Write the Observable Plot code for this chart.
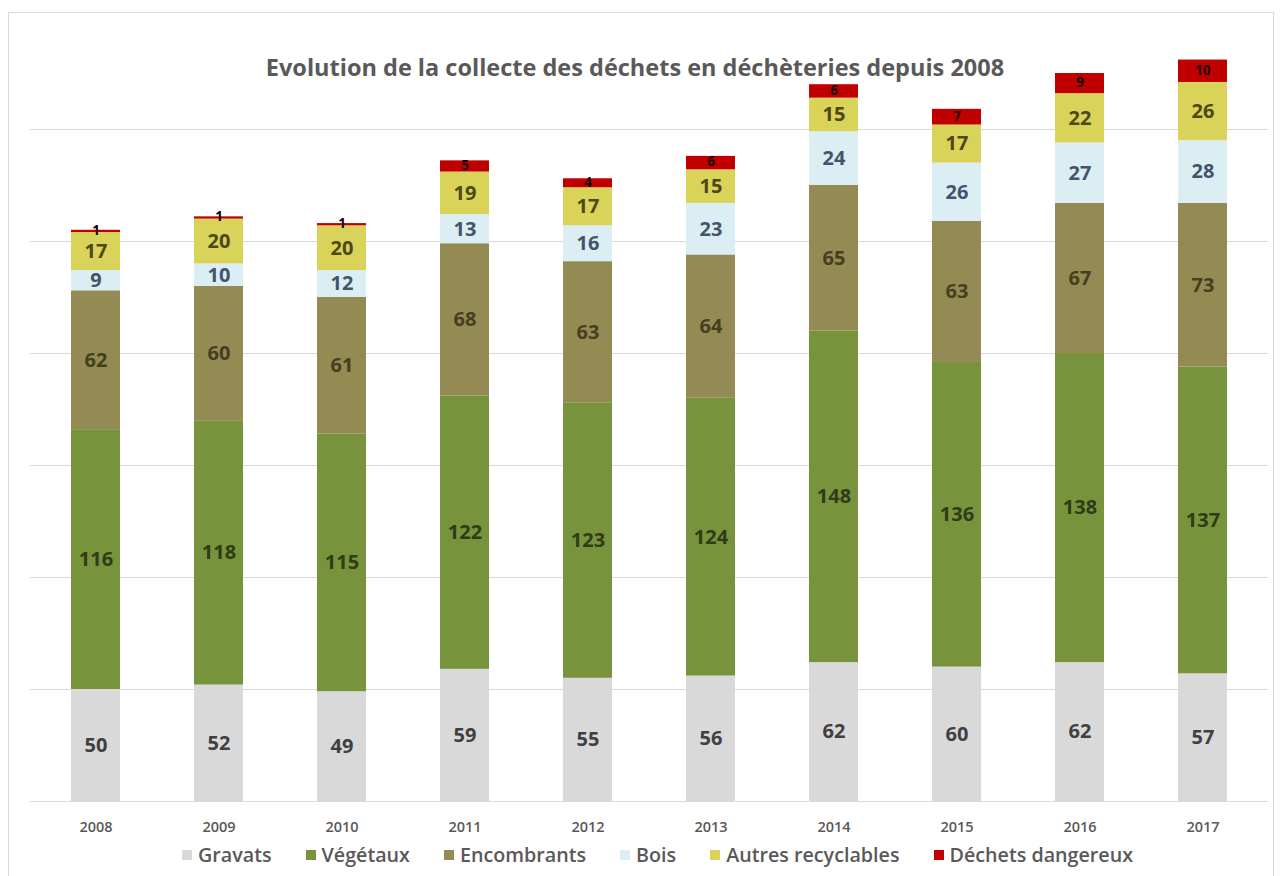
<!DOCTYPE html>
<html>
<head>
<meta charset="utf-8">
<script src="https://cdn.jsdelivr.net/npm/d3@7"></script>
<script src="https://cdn.jsdelivr.net/npm/@observablehq/plot@0.6"></script>
<style>
  html, body { margin: 0; padding: 0; background: #fff; }
  #wrap { position: relative; width: 1282px; height: 876px; overflow: hidden; font-family: "Open Sans", sans-serif; }
  #frame { position: absolute; left: 8px; top: 12px; width: 1266px; height: 880px; border: 1px solid #d9d9d9; box-sizing: border-box; }
  #chart { position: absolute; left: 0; top: 20px; }
  #title { position: absolute; left: 0; top: 56px; width: 1270px; text-align: center; font-size: 23.5px; line-height: 23px; font-weight: 700; color: #595959; z-index: 2; }
  #legend { position: absolute; left: 182px; top: 843px; display: flex; align-items: center; font-size: 19.7px; line-height: 24px; font-weight: 600; color: #595959; z-index: 2; white-space: nowrap; }
  #legend .item { display: flex; align-items: center; margin-right: 34px; }
  #legend .sw { width: 10px; height: 10px; margin-right: 6px; }
</style>
</head>
<body>
<div id="wrap">
  <div id="frame"></div>
  <div id="title">Evolution de la collecte des déchets en déchèteries depuis 2008</div>
  <div id="chart"></div>
  <div id="legend"></div>
</div>
<script>
const years = ["2008","2009","2010","2011","2012","2013","2014","2015","2016","2017"];
const seriesNames = ["Gravats","Végétaux","Encombrants","Bois","Autres recyclables","Déchets dangereux"];
const gravats     = [50, 52, 49, 59, 55, 56, 62, 60, 62, 57];
const vegetaux    = [116,118,115,122,123,124,148,136,138,137];
const encombrants = [62, 60, 61, 68, 63, 64, 65, 63, 67, 73];
const bois        = [9, 10, 12, 13, 16, 23, 24, 26, 27, 28];
const autres      = [17, 20, 20, 19, 17, 15, 15, 17, 22, 26];
const dangereux   = [1, 1, 1, 5, 4, 6, 6, 7, 9, 10];
const gridTicks   = [0, 50, 100, 150, 200, 250, 300];

const barColors  = ["#d9d9d9", "#77933c", "#948a54", "#dbeef4", "#d9d35a", "#c00000"];
const textColors = ["#404040", "#2f3c16", "#463f1f", "#44546a", "#4d4814", "#1a0000"];

const values = [gravats, vegetaux, encombrants, bois, autres, dangereux];
const data = [];
seriesNames.forEach((s, si) => {
  years.forEach((y, yi) => {
    data.push({year: y, series: s, si, value: values[si][yi]});
  });
});

const chart = Plot.plot({
  width: 1282,
  height: 820,
  marginLeft: 30,
  marginRight: 14,
  marginTop: 109,
  marginBottom: 39,
  style: {background: "transparent", fontFamily: "Open Sans, sans-serif"},
  x: {domain: years, paddingInner: 0.6, paddingOuter: 0.3, label: null},
  y: {domain: [0, 300], axis: null},
  color: {type: "identity"},
  marks: [
    Plot.ruleY(gridTicks, {stroke: "#d9d9d9", strokeWidth: 1}),
    Plot.barY(data, Plot.stackY({x: "year", y: "value", fill: d => barColors[d.si]})),
    Plot.text(data, Plot.stackY({
      x: "year", y: "value",
      text: d => d.si === 5 ? "" : String(d.value),
      fill: d => textColors[d.si],
      fontSize: 20, fontWeight: 700
    })),
    Plot.text(data, Plot.stackY({
      x: "year", y: "value",
      text: d => d.si === 5 ? String(d.value) : "",
      fill: d => textColors[d.si],
      fontSize: 13.5, fontWeight: 700, dy: -1
    })),
    Plot.axisX({tickSize: 0, tickPadding: 20, fontSize: 14.5, fontWeight: 600, fill: "#595959", label: null})
  ]
});
document.getElementById("chart").appendChild(chart);

const legend = document.getElementById("legend");
seriesNames.forEach((s, i) => {
  const it = document.createElement("div");
  it.className = "item";
  const sw = document.createElement("span");
  sw.className = "sw";
  sw.style.background = barColors[i];
  const t = document.createElement("span");
  t.textContent = s;
  it.appendChild(sw); it.appendChild(t);
  legend.appendChild(it);
});
</script>
</body>
</html>
